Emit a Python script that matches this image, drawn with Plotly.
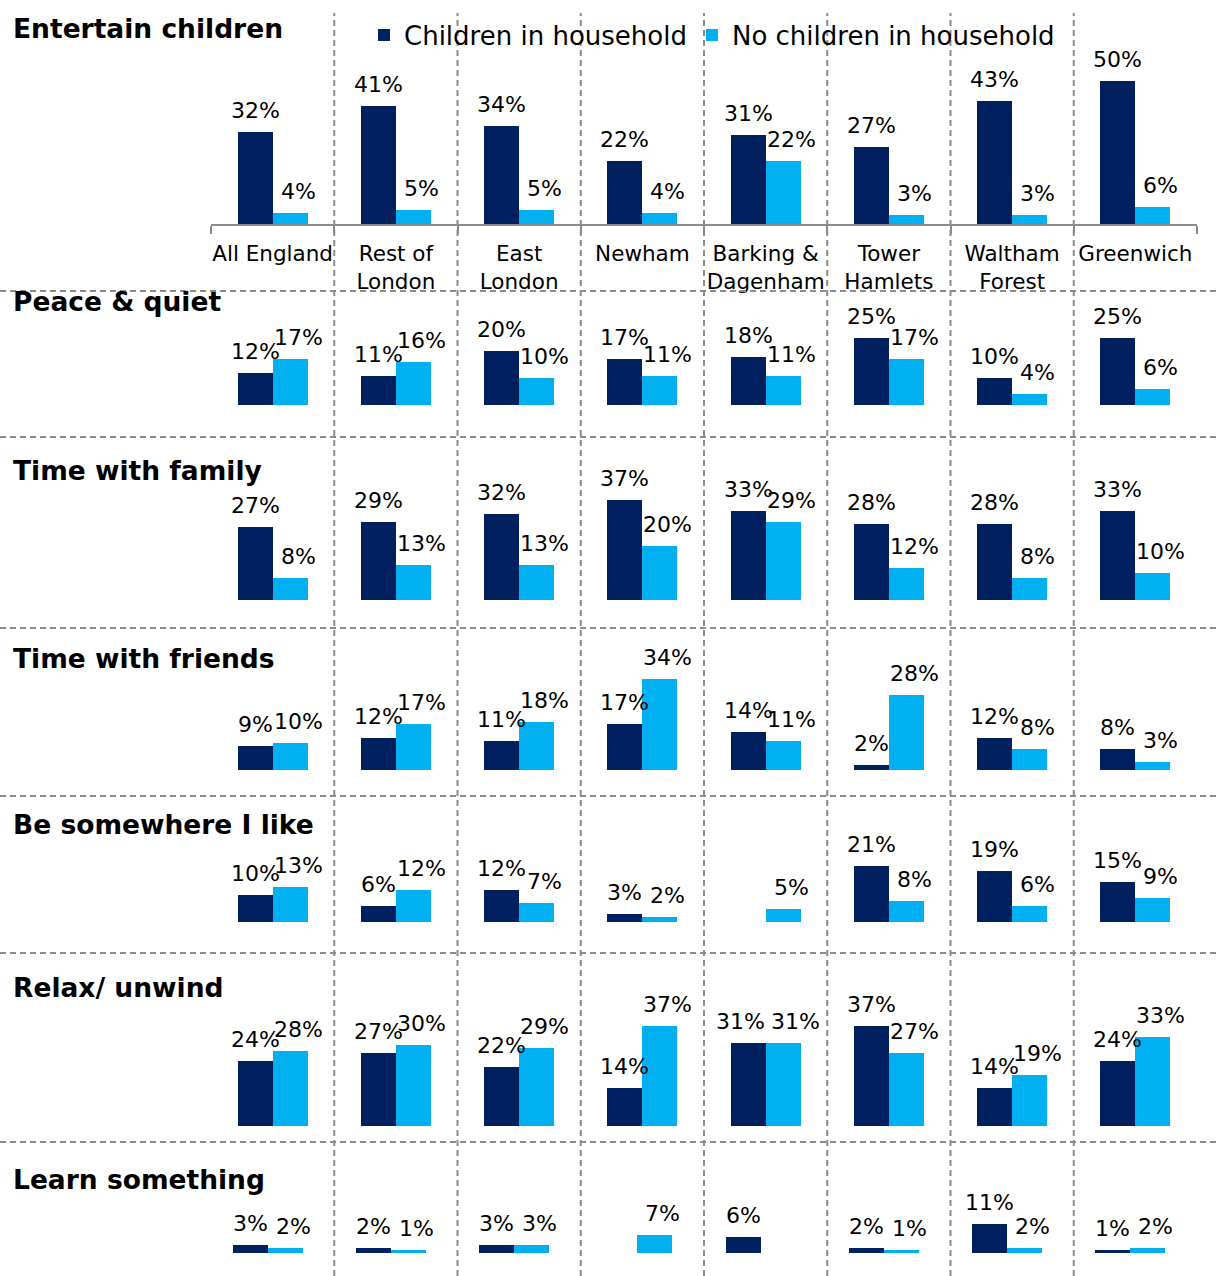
import plotly.graph_objects as go

# ---- data -------------------------------------------------------------
areas = ["All England", "Rest of<br>London", "East<br>London", "Newham",
         "Barking &<br>Dagenham", "Tower<br>Hamlets", "Waltham<br>Forest", "Greenwich"]

activities = ["Entertain children", "Peace & quiet", "Time with family",
              "Time with friends", "Be somewhere I like", "Relax/ unwind",
              "Learn something"]

series_names = ["Children in household", "No children in household"]

# percentages, one list per activity, in area order
children = [
    [32, 41, 34, 22, 31, 27, 43, 50],
    [12, 11, 20, 17, 18, 25, 10, 25],
    [27, 29, 32, 37, 33, 28, 28, 33],
    [9, 12, 11, 17, 14, 2, 12, 8],
    [10, 6, 12, 3, None, 21, 19, 15],
    [24, 27, 22, 14, 31, 37, 14, 24],
    [3, 2, 3, None, 6, 2, 11, 1],
]
no_children = [
    [4, 5, 5, 4, 22, 3, 3, 6],
    [17, 16, 10, 11, 11, 17, 4, 6],
    [8, 13, 13, 20, 29, 12, 8, 10],
    [10, 17, 18, 34, 11, 28, 8, 3],
    [13, 12, 7, 2, 5, 8, 6, 9],
    [28, 30, 29, 37, 31, 27, 19, 33],
    [2, 1, 3, 7, None, 1, 2, 2],
]

# ---- layout settings ---------------------------------------------------
W, H = 1218, 1276
DARK, LIGHT = "#002060", "#00B0F0"
GRID = "#8c8c8c"
FONT = "DejaVu Sans"

# per row: baseline pixel, top-of-panel pixel, pixels per percentage point,
# horizontal shift of the panel, title centre pixel
panels = [
    (224, 60, 2.87, 0, 29),
    (405, 305, 2.68, 0, 301),
    (600, 445, 2.70, 0, 470),
    (770, 640, 2.68, 0, 659),
    (922, 805, 2.67, 0, 824),
    (1126, 990, 2.69, 0, 987),
    (1253, 1150, 2.64, -5, 1179),
]
separators_y = [291, 437, 628, 796, 953, 1142]
x_left, x_right = 211, 1197
bar_w = 0.284


def py(px):
    return 1 - px / H


def label_shifts(a, b, scale):
    """Horizontal nudges for the two value labels of one area; two-digit
    labels sitting at almost the same height are pushed apart."""
    if a is not None and b is not None and a >= 10 and b >= 10 \
            and abs(a - b) * scale < 8:
        return -8, 12
    return 0, 8


fig = go.Figure()
n = len(areas)
idx = list(range(n))

for r, (base, top, scale, shift, title_y) in enumerate(panels):
    ax = "" if r == 0 else str(r + 1)
    shifts = [label_shifts(a, b, scale) for a, b in zip(children[r], no_children[r])]
    for s, (vals, color) in enumerate([(children[r], DARK), (no_children[r], LIGHT)]):
        off = -bar_w / 2 if s == 0 else bar_w / 2
        xs = [i + off for i in idx]
        fig.add_trace(go.Bar(
            x=xs, y=vals, width=bar_w, marker=dict(color=color, line=dict(width=0)),
            name=series_names[s], showlegend=(r == 0),
            xaxis="x" + ax, yaxis="y" + ax, hoverinfo="skip",
        ))
        for xv, v, sh in zip(xs, vals, shifts):
            if v is None:
                continue
            fig.add_annotation(
                x=xv, y=v, xref="x" + ax, yref="y" + ax, text=f"{v}%",
                showarrow=False, yanchor="bottom", yshift=7, xshift=sh[s],
                font=dict(family=FONT, size=22, color="#000"),
            )

    xaxis = dict(
        domain=[(x_left + shift) / W, (x_right + shift) / W],
        range=[-0.5, n - 0.5], anchor="y" + ax, fixedrange=True,
        showgrid=False, zeroline=False,
    )
    if r == 0:
        xaxis.update(
            showline=True, linecolor=GRID, linewidth=2,
            tickmode="array", tickvals=idx, ticktext=areas, ticks="",
            ticklabelstandoff=9,
            tickfont=dict(family=FONT, size=21.5, color="#000"),
            minor=dict(tickmode="array", tickvals=[i - 0.5 for i in range(n + 1)],
                       ticks="outside", ticklen=8, tickwidth=2, tickcolor=GRID),
        )
    else:
        xaxis.update(visible=False)
    yaxis = dict(
        domain=[py(base), py(top)], range=[0, (base - top) / scale],
        anchor="x" + ax, visible=False, fixedrange=True,
    )
    fig.layout["xaxis" + ax] = xaxis
    fig.layout["yaxis" + ax] = yaxis

    fig.add_annotation(
        x=11 / W, y=py(title_y), xref="paper", yref="paper", xanchor="left",
        yanchor="middle", text=f"<b>{activities[r]}</b>", showarrow=False,
        font=dict(family=FONT, size=26.5, color="#000"),
    )

# dashed separators between areas and between activities
for i in range(n - 1):
    fig.add_shape(type="line", xref="x", yref="paper", x0=i + 0.5, x1=i + 0.5,
                  y0=0, y1=py(13), line=dict(color=GRID, width=2, dash="6px,4px"))
for yp in separators_y:
    fig.add_shape(type="line", xref="paper", yref="paper", x0=0, x1=1,
                  y0=py(yp), y1=py(yp), line=dict(color=GRID, width=2, dash="6px,4px"))

fig.update_layout(
    width=W, height=H, margin=dict(l=0, r=0, t=0, b=0),
    paper_bgcolor="white", plot_bgcolor="rgba(0,0,0,0)",
    barmode="overlay", bargap=0,
    legend=dict(orientation="h", x=364 / W, y=py(35), xanchor="left", yanchor="middle",
                font=dict(family=FONT, size=26, color="#000"), bgcolor="rgba(0,0,0,0)",
                itemwidth=30),
    showlegend=True,
)

fig.write_html("out.html")
